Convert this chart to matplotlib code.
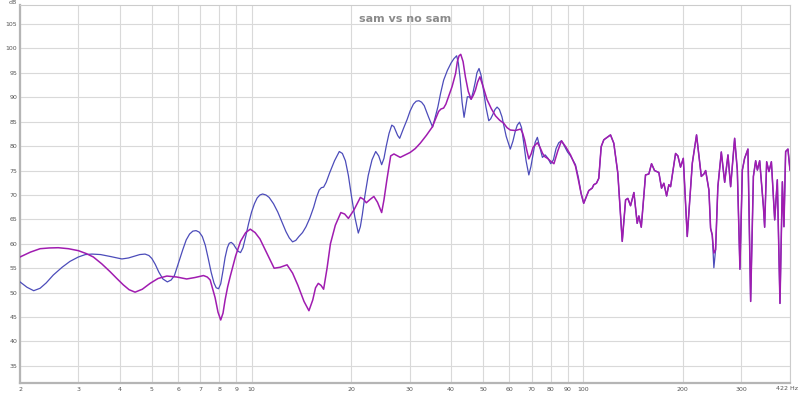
import matplotlib

matplotlib.use("Agg")
import matplotlib.pyplot as plt

# --- data (Hz, dB) ---
blue_freq = [
    2.0, 2.1, 2.2, 2.3, 2.4, 2.52, 2.68, 2.83, 3.0, 3.15, 3.3, 3.5, 3.75, 4.06,
    4.25, 4.45, 4.6, 4.77, 4.9, 5.0, 5.12, 5.25, 5.4, 5.57, 5.72, 5.85, 6.0,
    6.2, 6.35, 6.5, 6.65, 6.8, 6.95, 7.1, 7.25, 7.4, 7.55, 7.7, 7.82, 7.95,
    8.07, 8.2, 8.32, 8.45, 8.56, 8.68, 8.82, 8.95, 9.1, 9.26, 9.42, 9.6, 9.8,
    10.0, 10.2, 10.4, 10.6, 10.8, 11.05, 11.3, 11.65, 12.0, 12.35, 12.7, 13.0,
    13.3, 13.6, 13.9, 14.25, 14.6, 15.0, 15.4, 15.7, 16.0, 16.25, 16.5, 16.8,
    17.2, 17.8, 18.4, 18.8, 19.2, 19.6, 20.0, 20.5, 21.0, 21.3, 21.6, 22.0,
    22.5, 23.1, 23.7, 24.2, 24.7, 25.1, 25.5, 26.0, 26.5, 26.9, 27.2, 27.6,
    28.0, 28.7, 29.5, 30.1, 30.8, 31.4, 32.0, 32.6, 33.2, 34.2, 35.2, 35.8,
    36.5, 37.2, 38.0, 39.0, 40.0, 40.8, 41.6, 42.1, 42.6, 43.2, 43.8, 44.3,
    44.8, 45.4, 46.0, 46.6, 47.3, 47.9, 48.6, 49.3, 50.0, 51.0, 52.0, 52.7,
    53.5, 54.3, 55.1, 56.0, 57.0, 58.7, 60.4, 61.5, 62.5, 63.4, 64.4, 65.3,
    66.2, 67.4, 68.7, 69.7, 70.8, 71.8, 72.9, 74.0, 75.5, 77.0, 78.5, 80.0,
    81.5, 83.0, 84.6, 86.2, 88.0, 89.9, 91.8, 95.0, 97.0, 98.8, 100.6,
]
blue_db = [
    52.2, 51.1, 50.4, 50.9, 52.0, 53.6, 55.2, 56.4, 57.3, 57.8, 57.9, 57.8, 57.4, 56.9,
    57.1, 57.5, 57.8, 57.9, 57.6, 57.0, 55.8, 54.2, 52.8, 52.2, 52.6, 53.5, 55.8,
    58.8, 60.8, 62.0, 62.6, 62.7, 62.4, 61.5, 59.7, 57.0, 54.2, 52.0, 51.0, 50.8,
    51.8, 54.5, 57.2, 59.2, 60.1, 60.3, 59.9, 59.2, 58.5, 58.2, 59.2, 61.5, 64.2,
    66.5, 68.2, 69.4, 70.0, 70.2, 70.0, 69.5, 68.2, 66.5, 64.5, 62.5, 61.2,
    60.4, 60.7, 61.5, 62.3, 63.5, 65.3, 67.5, 69.5, 71.0, 71.5, 71.6, 72.6,
    74.5, 77.0, 78.9, 78.5, 77.0, 74.0, 70.0, 65.5, 62.2, 63.5, 66.0, 70.0,
    74.0, 77.2, 78.9, 78.0, 76.2, 77.5, 80.0, 82.6, 84.3, 84.0, 83.2, 82.2,
    81.6, 83.5, 85.5, 87.2, 88.6, 89.2, 89.3, 89.0, 88.3, 86.0, 83.9, 85.8,
    88.0, 90.8, 93.5, 95.5, 97.0, 97.9, 98.5, 97.0, 94.0, 89.0, 85.9, 88.0,
    90.1, 90.1, 89.6, 91.0, 93.0, 95.0, 95.9, 94.5, 92.0, 88.0, 85.2, 85.6,
    86.5, 87.5, 88.0, 87.5, 86.0, 82.0, 79.4, 81.0, 83.0, 84.3, 84.9, 83.8,
    81.0, 77.0, 74.1, 75.8, 78.5, 80.8, 81.8, 80.0, 77.7, 78.2, 77.5, 76.4,
    77.2, 79.5, 80.7, 81.1, 80.0, 78.8, 78.0, 76.2, 73.5, 70.3, 68.3,
]

purple_freq = [
    2.0, 2.15, 2.30, 2.45, 2.61, 2.8, 3.0, 3.17, 3.33, 3.53, 3.74, 3.92, 4.10,
    4.27, 4.45, 4.68, 4.94, 5.22, 5.55, 5.95, 6.37, 6.75, 7.16, 7.35, 7.50,
    7.65, 7.76, 7.92, 8.07, 8.2, 8.32, 8.47, 8.62, 8.95, 9.26, 9.6, 9.91,
    10.25, 10.6, 11.1, 11.7, 12.2, 12.8, 13.3, 13.8, 14.4, 14.9, 15.3, 15.6,
    15.9, 16.2, 16.5, 16.9, 17.3, 17.9, 18.6, 19.1, 19.6, 20.4, 21.3, 21.8,
    22.2, 22.8, 23.4, 24.0, 24.7, 25.1, 25.6, 26.3, 26.9, 28.1, 29.1, 30.1,
    31.2, 32.3, 33.7, 35.1, 35.9, 36.7, 37.3, 38.0, 38.6, 39.4, 40.3, 41.3,
    41.8, 42.3, 42.8, 43.5, 44.2, 45.1, 46.0, 46.7, 47.4, 48.1, 48.9, 50.1,
    51.4, 52.9, 54.5, 56.1, 57.7, 59.0, 60.4, 62.6, 64.9, 65.8, 66.7, 67.7,
    68.7, 69.8, 70.8, 72.9, 74.2, 75.6, 76.9, 78.2, 80.0, 81.8, 84.0, 86.2,
    88.9, 91.8, 95.0, 97.0, 98.8, 100.6,
]
purple_db = [
    57.3, 58.3, 59.0, 59.15, 59.2, 59.0, 58.6, 58.0, 57.3, 55.9, 54.3, 52.9, 51.6,
    50.6, 50.1, 50.7, 51.9, 52.9, 53.4, 53.2, 52.8, 53.1, 53.5, 53.2, 52.6,
    50.5, 49.0, 46.0, 44.4, 45.8, 48.5, 51.2, 53.3, 57.5, 60.5, 62.3, 63.0,
    62.3, 61.0, 58.2, 55.0, 55.2, 55.7, 54.0, 51.5, 48.2, 46.3, 48.5, 51.0,
    51.9, 51.5, 50.7, 55.0, 60.0, 63.8, 66.4, 66.1, 65.2, 67.0, 69.5, 69.1,
    68.4, 69.1, 69.7, 68.5, 66.4, 69.0, 73.0, 78.0, 78.4, 77.7, 78.2, 78.7,
    79.5, 80.6, 82.2, 83.9, 85.5, 87.1, 87.6, 87.8, 88.6, 90.3, 92.2, 94.9,
    97.3, 98.5, 98.8, 97.3, 94.2, 91.2, 89.6, 90.4, 91.5, 93.1, 94.2, 92.0,
    89.5, 87.7, 86.2, 85.3, 84.7, 83.8, 83.3, 83.2, 83.5, 82.7, 81.3, 79.2,
    77.4, 78.4, 79.8, 80.7, 79.8, 78.5, 77.8, 77.5, 76.9, 76.4, 79.0, 81.1,
    79.8, 78.2, 75.9, 73.0, 70.3, 68.3,
]

# above ~100 Hz both traces lie on top of each other
high_freq = [
    104.2, 106.7, 107.9, 109.9, 111.7, 113.6, 115.7, 121.2, 124.0, 127.5, 131.5,
    134.6, 136.7, 139.3, 142.6, 145.9, 147.6, 150.1, 154.6, 158.2, 161.2, 164.6,
    169.6, 172.8, 175.6, 179.0, 181.8, 184.0, 190.5, 193.6, 197.2, 201.0, 206.6,
    214.0, 220.4, 227.8, 232.0, 234.8, 240.2, 243.0, 245.8, 248.6, 251.6, 255.6,
    261.8, 268.0, 274.2, 279.3, 287.2, 292.6, 298.0, 303.0, 307.8, 315.0, 321.0,
    327.2, 332.4, 336.4, 341.8, 350.8, 353.8, 358.8, 364.6, 370.8, 379.4, 386.4,
    393.6, 400.2, 404.6, 409.4, 416.0, 422.0,
]
high_db_purple = [
    70.9, 71.4, 72.1, 72.4, 73.4, 79.9, 81.3, 82.3, 80.6, 74.5, 60.5,
    69.0, 69.3, 67.8, 70.5, 64.2, 65.7, 63.4, 74.1, 74.3, 76.4, 75.0,
    74.6, 71.4, 72.4, 69.8, 72.1, 71.7, 78.5, 78.0, 75.7, 77.5, 61.5,
    76.5, 82.3, 73.8, 74.3, 75.0, 71.0, 63.2, 61.8, 58.1, 58.8, 71.7,
    78.8, 72.6, 78.2, 71.7, 81.6, 75.1, 54.8, 75.1, 77.5, 79.4, 48.2,
    73.8, 77.0, 75.1, 77.0, 67.6, 63.4, 76.8, 74.8, 76.8, 64.9, 73.1,
    47.8, 72.7, 63.5, 78.9, 79.4, 75.1,
]
high_db_blue = [
    70.9, 71.4, 72.1, 72.4, 73.4, 79.9, 81.3, 82.3, 80.6, 74.5, 60.5,
    69.0, 69.3, 67.8, 70.5, 64.2, 65.7, 63.4, 74.1, 74.3, 76.4, 75.0,
    74.6, 71.4, 72.4, 69.8, 72.1, 71.7, 78.5, 78.0, 75.7, 77.5, 61.5,
    76.5, 82.3, 73.8, 74.3, 75.0, 71.0, 63.2, 61.8, 55.1, 58.8, 71.7,
    78.8, 72.6, 78.2, 71.7, 81.6, 75.1, 54.8, 75.1, 77.5, 79.4, 48.2,
    73.8, 77.0, 75.1, 77.0, 67.6, 63.4, 76.8, 74.8, 76.8, 64.9, 73.1,
    47.8, 72.7, 63.5, 78.9, 79.4, 75.1,
]

x_ticks = [2, 3, 4, 5, 6, 7, 8, 9, 10, 20, 30, 40, 50, 60, 70, 80, 90, 100, 200, 300]
y_ticks = list(range(35, 110, 5))

TITLE = "sam vs no sam"
BLUE = "#4c4cba"
PURPLE = "#a01cb0"
GRID = "#d9d9d9"
LABEL = "#555555"

W, H = 800, 393
fig = plt.figure(figsize=(W / 100, H / 100), dpi=100)
fig.patch.set_facecolor("white")
ax = fig.add_axes([20 / W, 10 / H, 770 / W, 378 / H])

ax.plot(blue_freq + high_freq, blue_db + high_db_blue, color=BLUE, lw=0.9,
        zorder=3, solid_joinstyle="round")
ax.plot(purple_freq + high_freq, purple_db + high_db_purple, color=PURPLE, lw=1.1,
        zorder=4, solid_joinstyle="round")

ax.set_xscale("log")
ax.set_xlim(2, 422)
ax.set_ylim(31.5, 108.9)

ax.set_xticks(x_ticks + [422])
ax.set_xticklabels([str(t) for t in x_ticks] + [""])
ax.xaxis.set_minor_locator(matplotlib.ticker.NullLocator())
ax.set_yticks(y_ticks)
ax.set_yticklabels([str(t) for t in y_ticks])
ax.tick_params(axis="both", length=0, labelsize=4.5, labelcolor=LABEL)
ax.tick_params(axis="x", pad=3)
ax.tick_params(axis="y", pad=2)
ax.grid(True, color=GRID, lw=0.8, zorder=0)

for side in ("left", "bottom"):
    ax.spines[side].set_color("#b5b5b5")
    ax.spines[side].set_linewidth(1.6)
for side in ("top", "right"):
    ax.spines[side].set_color("#cccccc")
    ax.spines[side].set_linewidth(0.8)

ax.text(0.5, 0.977, TITLE, transform=ax.transAxes, ha="center", va="top",
        fontsize=8, fontweight="bold", color="#8a8a8a")
fig.text(13 / W, 1 - 3 / H, "dB", ha="center", va="center", fontsize=4.5, color=LABEL)
fig.text(776 / W, 1 - 388 / H, "422 Hz", ha="left", va="center", fontsize=4.5, color=LABEL)

fig.savefig("out.png", dpi=100, facecolor="white")
